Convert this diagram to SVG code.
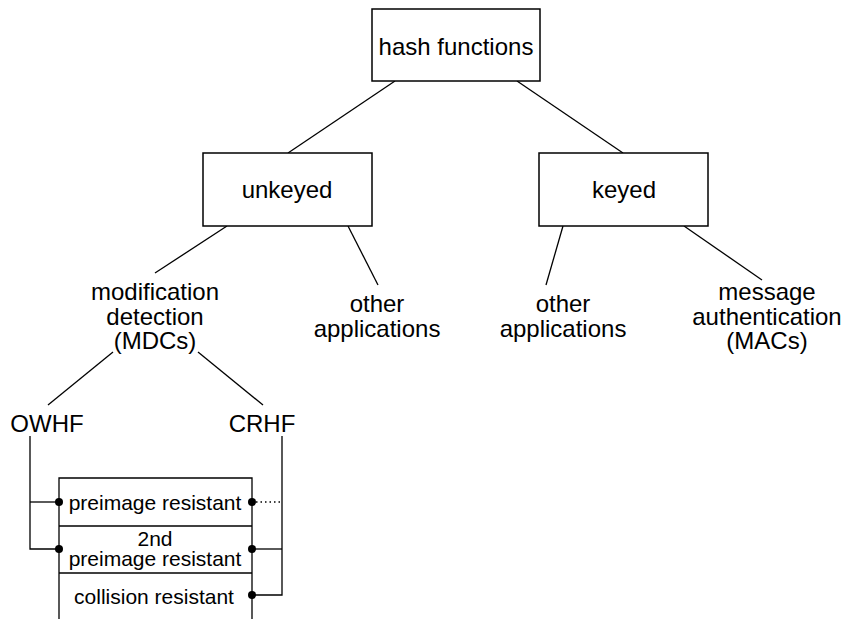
<svg xmlns="http://www.w3.org/2000/svg" width="844" height="619" viewBox="0 0 844 619">
<style>
.box{fill:#fff;stroke:#000;stroke-width:1.5}
.ln{stroke:#000;stroke-width:1.3;fill:none}
.dot{stroke:#000;stroke-width:1.5;stroke-dasharray:1.5 3;fill:none}
.t{font-family:"Liberation Sans",Arial,sans-serif;font-size:24px;fill:#000;text-anchor:middle}
.s{font-family:"Liberation Sans",Arial,sans-serif;font-size:21px;fill:#000;text-anchor:middle}
.pt{fill:#000}
</style>
<rect width="844" height="619" fill="#fff"/>
<g id="connectors">
<line class="ln" x1="395" y1="81" x2="288" y2="153"/>
<line class="ln" x1="517" y1="81" x2="623" y2="153"/>
<line class="ln" x1="227" y1="226" x2="155" y2="273"/>
<line class="ln" x1="348" y1="226" x2="378" y2="285"/>
<line class="ln" x1="563" y1="226" x2="546" y2="285"/>
<line class="ln" x1="684" y1="226" x2="762" y2="280"/>
<line class="ln" x1="113" y1="352" x2="48" y2="405"/>
<line class="ln" x1="198" y1="352" x2="263" y2="405"/>
<polyline class="ln" points="30,436 30,549 59,549"/>
<line class="ln" x1="30" y1="502" x2="59" y2="502"/>
<polyline class="ln" points="282,436 282,595 252,595"/>
<line class="ln" x1="252" y1="549" x2="282" y2="549"/>
<line class="dot" x1="256" y1="502" x2="282" y2="502"/>
</g>
<g id="hash">
<rect class="box" x="372" y="9" width="168" height="72"/>
<text class="t" x="456" y="55">hash functions</text>
</g>
<g id="unkeyed">
<rect class="box" x="203" y="153" width="169" height="73"/>
<text class="t" x="287" y="198">unkeyed</text>
</g>
<g id="keyed">
<rect class="box" x="539" y="153" width="169" height="73"/>
<text class="t" x="624" y="198">keyed</text>
</g>
<g id="mdc">
<text class="t" x="155" y="300">modification</text>
<text class="t" x="155" y="324.5">detection</text>
<text class="t" x="155" y="349">(MDCs)</text>
</g>
<g id="other1">
<text class="t" x="377" y="312">other</text>
<text class="t" x="377" y="337">applications</text>
</g>
<g id="other2">
<text class="t" x="563" y="312">other</text>
<text class="t" x="563" y="337">applications</text>
</g>
<g id="mac">
<text class="t" x="767" y="300">message</text>
<text class="t" x="767" y="324.5">authentication</text>
<text class="t" x="767" y="349">(MACs)</text>
</g>
<g id="owhf"><text class="t" x="47" y="432">OWHF</text></g>
<g id="crhf"><text class="t" x="262" y="432">CRHF</text></g>
<g id="properties">
<polyline class="ln" points="59,619 59,478 252,478 252,619"/>
<line class="ln" x1="59" y1="526" x2="252" y2="526"/>
<line class="ln" x1="59" y1="573" x2="252" y2="573"/>
<text class="s" x="155" y="510">preimage resistant</text>
<text class="s" x="155" y="546">2nd</text>
<text class="s" x="155" y="566">preimage resistant</text>
<text class="s" x="154" y="604">collision resistant</text>
<circle class="pt" cx="59" cy="502" r="4"/>
<circle class="pt" cx="59" cy="549" r="4"/>
<circle class="pt" cx="252" cy="502" r="4"/>
<circle class="pt" cx="252" cy="549" r="4"/>
<circle class="pt" cx="252" cy="595" r="4"/>
</g>
</svg>
